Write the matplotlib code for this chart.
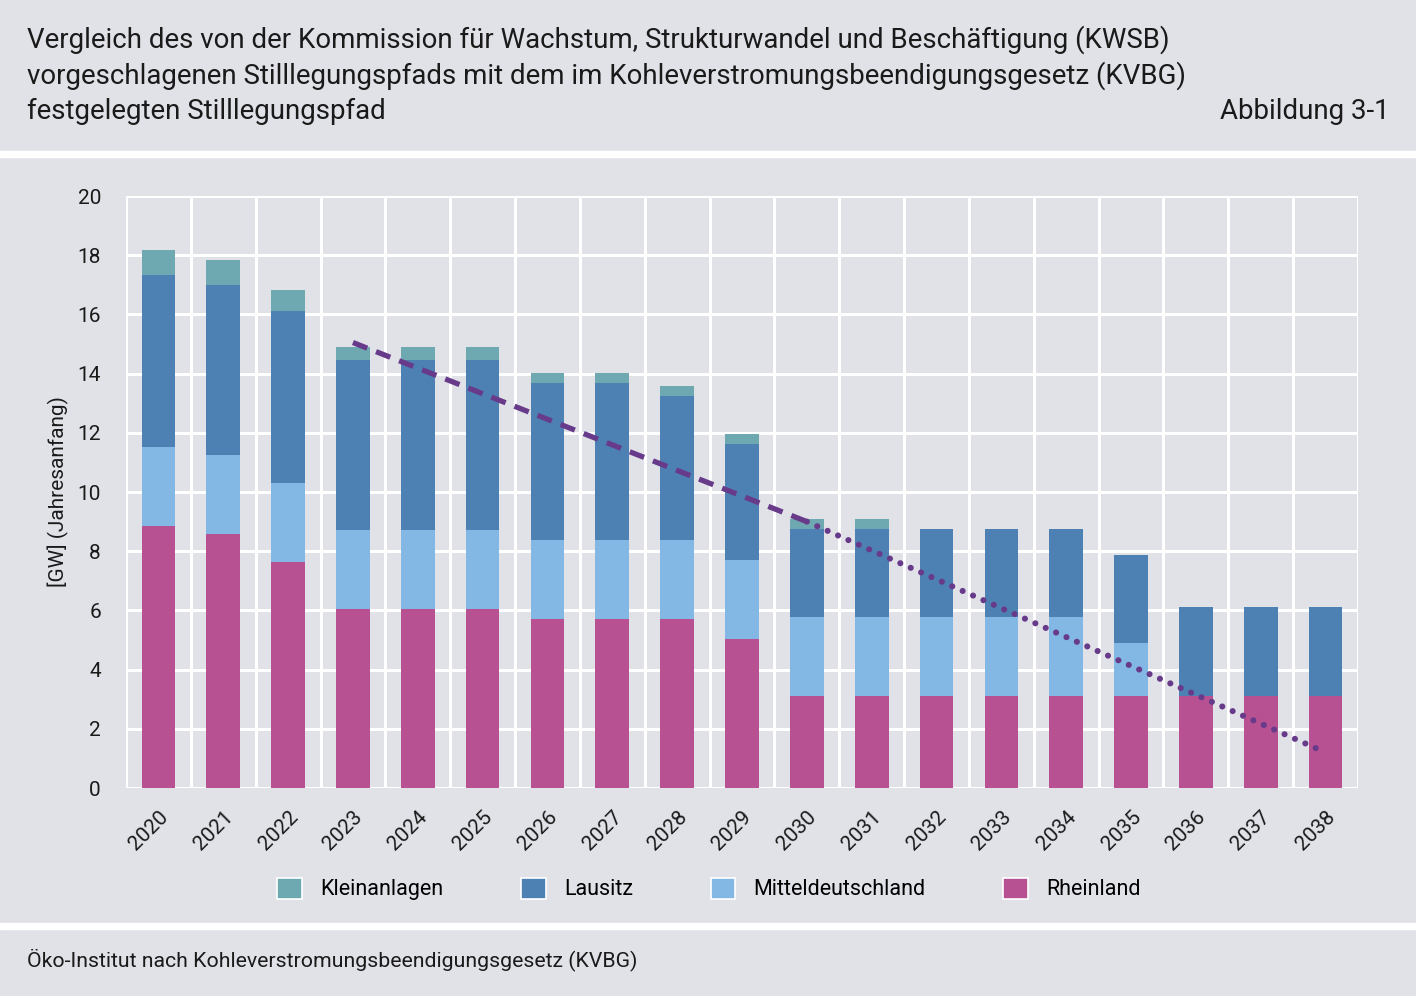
import numpy as np
import matplotlib
matplotlib.use("Agg")
import matplotlib.pyplot as plt
from matplotlib.patches import Patch

# Daten (GW zum Jahresanfang)
jahre = [str(j) for j in range(2020, 2039)]
rheinland = [8.86, 8.58, 7.65, 6.05, 6.05, 6.05, 5.71, 5.71, 5.71, 5.03,
             3.11, 3.11, 3.11, 3.11, 3.11, 3.11, 3.11, 3.11, 3.11]
mitteldeutschland = [2.66, 2.67, 2.64, 2.66, 2.66, 2.66, 2.66, 2.66, 2.66, 2.67,
                     2.67, 2.67, 2.67, 2.67, 2.67, 1.78, 0, 0, 0]
lausitz = [5.81, 5.74, 5.82, 5.75, 5.75, 5.75, 5.31, 5.31, 4.87, 3.93,
           2.97, 2.97, 2.97, 2.97, 2.97, 2.98, 2.99, 2.99, 2.99]
kleinanlagen = [0.84, 0.85, 0.71, 0.44, 0.44, 0.44, 0.34, 0.34, 0.34, 0.34,
                0.35, 0.35, 0, 0, 0, 0, 0, 0, 0]

# KVBG-Pfad
pfad_gestrichelt_x = ["2023", "2030"]
pfad_gestrichelt_y = [15.05, 9.0]
pfad_gepunktet_x = ["2030", "2038"]
pfad_gepunktet_y = [9.0, 1.2]

bg = "#e1e2e8"
farben = {"Kleinanlagen": "#6ea8b0", "Lausitz": "#4e81b3",
          "Mitteldeutschland": "#83b7e4", "Rheinland": "#b75192"}
linienfarbe = "#673a8a"

plt.rcParams["font.family"] = ["Roboto", "DejaVu Sans"]

fig = plt.figure(figsize=(14.16, 9.96), dpi=100, facecolor=bg)
ax = fig.add_axes([126 / 1416, 1 - 788 / 996, 1232 / 1416, 592 / 996])
ax.set_facecolor(bg)

x = np.arange(len(jahre))
breite = 0.52
unten = np.zeros(len(jahre))
for name, werte in [("Rheinland", rheinland), ("Mitteldeutschland", mitteldeutschland),
                    ("Lausitz", lausitz), ("Kleinanlagen", kleinanlagen)]:
    werte = np.array(werte)
    ax.bar(x, werte, breite, bottom=unten, color=farben[name], zorder=3)
    unten += werte

pos = {j: i for i, j in enumerate(jahre)}
ax.plot([pos[j] for j in pfad_gestrichelt_x], pfad_gestrichelt_y, color=linienfarbe,
        lw=3.8, linestyle=(0, (2.9, 1.8)), dash_capstyle="butt", zorder=4)
ax.plot([pos[j] for j in pfad_gepunktet_x], pfad_gepunktet_y, color=linienfarbe,
        lw=4.4, linestyle=(0, (0.01, 1.85)), dash_capstyle="round", zorder=4)

ax.set_xlim(-0.5, len(jahre) - 0.5)
ax.set_ylim(0, 20)
ax.set_yticks(range(0, 21, 2))
ax.set_xticks(x)
ax.set_xticklabels(jahre, rotation=45, ha="right", va="top", rotation_mode="anchor")
ax.set_xticks(np.arange(-0.5, len(jahre), 1), minor=True)
ax.tick_params(axis="both", which="both", length=0, labelsize=15, colors="#1a1a1a")
ax.tick_params(axis="x", pad=14)
ax.tick_params(axis="y", pad=18)
ax.grid(True, axis="y", color="white", lw=2.2, zorder=0)
ax.grid(True, axis="x", which="minor", color="white", lw=2.2, zorder=0)
ax.grid(False, axis="x", which="major")
for s in ax.spines.values():
    s.set_visible(False)
ax.set_ylabel("[GW] (Jahresanfang)", fontsize=15, labelpad=6, color="#1a1a1a")

# Legende
handles = [Patch(facecolor=farben[n], edgecolor="white", lw=1.2, label=n)
           for n in ["Kleinanlagen", "Lausitz", "Mitteldeutschland", "Rheinland"]]
fig.legend(handles=handles, loc="center", bbox_to_anchor=(709 / 1416, 1 - 889 / 996),
           ncol=4, frameon=False, fontsize=15.5, handlelength=1.15, handleheight=1.15,
           handletextpad=0.85, columnspacing=3.6)

# Weiße Trennbalken
fig.patches.append(plt.Rectangle((0, 1 - 157 / 996), 1, 6 / 996, transform=fig.transFigure,
                                 color="white", zorder=0))
fig.patches.append(plt.Rectangle((0, 1 - 929 / 996), 1, 6 / 996, transform=fig.transFigure,
                                 color="white", zorder=0))

titel = ["Vergleich des von der Kommission für Wachstum, Strukturwandel und Beschäftigung (KWSB)",
         "vorgeschlagenen Stilllegungspfads mit dem im Kohleverstromungsbeendigungsgesetz (KVBG)",
         "festgelegten Stilllegungspfad"]
for i, zeile in enumerate(titel):
    fig.text(27 / 1416, 1 - (40 + 35.5 * i) / 996, zeile, fontsize=19.9, va="center",
             ha="left", color="#1a1a1a")
fig.text(1390 / 1416, 1 - 111 / 996, "Abbildung 3-1", fontsize=19.9, va="center",
         ha="right", color="#1a1a1a")
fig.text(27 / 1416, 1 - 960 / 996, "Öko-Institut nach Kohleverstromungsbeendigungsgesetz (KVBG)",
         fontsize=15.3, va="center", ha="left", color="#1a1a1a")

fig.savefig("out.png", dpi=100, facecolor=bg)
